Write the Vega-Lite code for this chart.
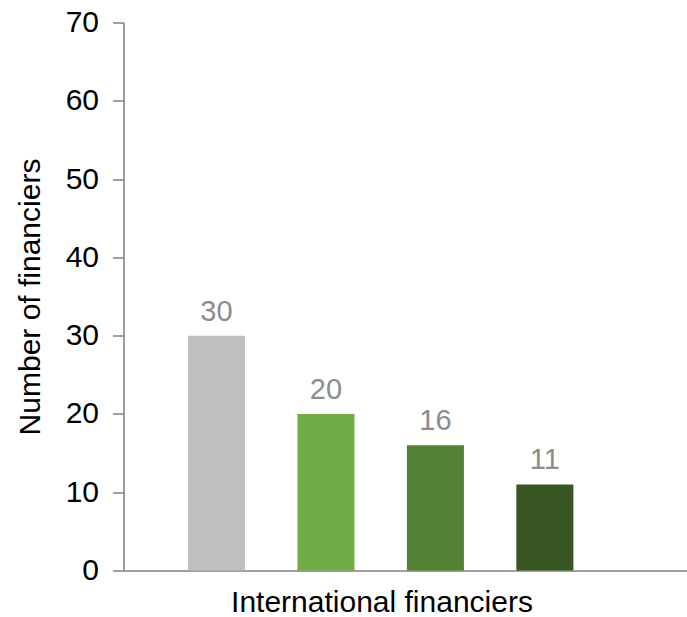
{
  "$schema": "https://vega.github.io/schema/vega-lite/v6.json",
  "width": 563,
  "height": 548,
  "autosize": "none",
  "padding": {"left": 123.5, "top": 22.5, "right": 0.5, "bottom": 46.5},
  "background": "white",
  "config": {"view": {"stroke": null}, "font": "Liberation Sans"},
  "data": {
    "values": [
      {"group": "Group 1", "financiers": 30},
      {"group": "Group 2", "financiers": 20},
      {"group": "Group 3", "financiers": 16},
      {"group": "Group 4", "financiers": 11}
    ]
  },
  "encoding": {
    "x": {
      "field": "group",
      "type": "nominal",
      "sort": null,
      "scale": {"paddingInner": 0.479, "paddingOuter": 0.811, "align": 0.363},
      "axis": {
        "labels": false,
        "ticks": false,
        "title": "International financiers",
        "titleFontSize": 30,
        "titleFontWeight": "normal",
        "titleColor": "#000000",
        "titleX": 258,
        "titleY": 41,
        "titleBaseline": "alphabetic",
        "domainColor": "#7f7f7f",
        "domainWidth": 1.5
      }
    },
    "y": {
      "field": "financiers",
      "type": "quantitative",
      "scale": {"domain": [0, 70], "nice": false},
      "axis": {
        "values": [0, 10, 20, 30, 40, 50, 60, 70],
        "grid": false,
        "tickSize": 11,
        "tickColor": "#7f7f7f",
        "tickWidth": 1.5,
        "domainColor": "#7f7f7f",
        "domainWidth": 1.5,
        "labelFontSize": 30,
        "labelColor": "#000000",
        "labelPadding": 14,
        "title": "Number of financiers",
        "titleFontSize": 30,
        "titleFontWeight": "normal",
        "titleColor": "#000000",
        "titleX": -84,
        "titleBaseline": "alphabetic"
      }
    }
  },
  "layer": [
    {
      "mark": {"type": "bar"},
      "encoding": {
        "color": {
          "field": "group",
          "type": "nominal",
          "scale": {
            "domain": ["Group 1", "Group 2", "Group 3", "Group 4"],
            "range": ["#bfbfbf", "#70ad47", "#548235", "#375623"]
          },
          "legend": null
        }
      }
    },
    {
      "mark": {"type": "text", "baseline": "alphabetic", "dy": -15, "fontSize": 29, "color": "#8c8c8c"},
      "encoding": {"text": {"field": "financiers", "type": "quantitative"}}
    }
  ]
}
